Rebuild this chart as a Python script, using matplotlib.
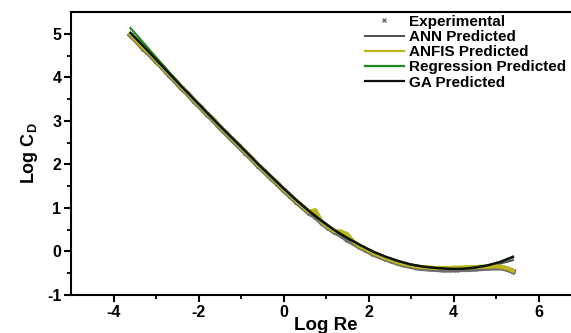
"""
Drag coefficient vs Reynolds number: experimental data and model predictions
"""
import matplotlib
matplotlib.use("Agg")
import matplotlib.pyplot as plt
from matplotlib.lines import Line2D

# experimental points (Log Re, Log Cd)
exp_x = [-3.6, -3.45, -3.3, -3.15, -3.0, -2.85, -2.7, -2.55, -2.4, -2.25,
         -2.1, -1.95, -1.8, -1.65, -1.5, -1.35, -1.2, -1.05, -0.9, -0.75,
         -0.6, -0.45, -0.3, -0.15, 0.0, 0.15, 0.3, 0.45, 0.6, 0.75,
         0.9, 1.05, 1.2, 1.35, 1.5, 1.65, 1.8, 1.95, 2.1, 2.25,
         2.4, 2.55, 2.7, 2.85, 3.0, 3.15, 3.3, 3.45, 3.6, 3.75,
         3.9, 4.05, 4.2, 4.35, 4.5, 4.65, 4.8, 4.95, 5.1, 5.25, 5.4]
exp_y = [4.97, 4.83, 4.66, 4.53, 4.37, 4.23, 4.06, 3.92, 3.75, 3.62,
         3.45, 3.31, 3.15, 3.02, 2.85, 2.71, 2.56, 2.42, 2.27, 2.13,
         1.97, 1.84, 1.69, 1.56, 1.41, 1.28, 1.14, 1.02, 0.89, 0.80,
         0.66, 0.55, 0.45, 0.38, 0.27, 0.19, 0.10, 0.03, -0.05, -0.11,
         -0.17, -0.22, -0.27, -0.31, -0.34, -0.37, -0.39, -0.40, -0.41, -0.42,
         -0.42, -0.42, -0.41, -0.41, -0.40, -0.39, -0.38, -0.37, -0.37, -0.40, -0.46]

# ANFIS output follows the experimental points closely
anfis_y = [4.99, 4.84, 4.68, 4.55, 4.39, 4.24, 4.08, 3.94, 3.77, 3.63,
           3.47, 3.33, 3.17, 3.04, 2.87, 2.73, 2.58, 2.44, 2.29, 2.15,
           1.99, 1.86, 1.71, 1.58, 1.43, 1.30, 1.16, 1.04, 0.91, 0.95,
           0.68, 0.57, 0.47, 0.46, 0.40, 0.22, 0.12, 0.05, -0.03, -0.09,
           -0.15, -0.20, -0.25, -0.29, -0.32, -0.35, -0.36, -0.37, -0.38, -0.38,
           -0.38, -0.37, -0.37, -0.36, -0.36, -0.35, -0.35, -0.34, -0.35, -0.38, -0.44]

# smooth model curves
fit_x = [-3.6, -3.3, -3.0, -2.7, -2.4, -2.1, -1.8, -1.5, -1.2, -0.9, -0.6,
         -0.3, 0.0, 0.3, 0.6, 0.9, 1.2, 1.5, 1.8, 2.1, 2.4, 2.7, 3.0,
         3.3, 3.6, 3.9, 4.2, 4.5, 4.8, 5.1, 5.4]
ann_y = [5.00, 4.70, 4.40, 4.09, 3.78, 3.48, 3.18, 2.88, 2.59, 2.30, 2.00,
         1.72, 1.44, 1.17, 0.92, 0.69, 0.48, 0.30, 0.14, -0.01, -0.13, -0.23, -0.31,
         -0.36, -0.39, -0.40, -0.40, -0.38, -0.34, -0.28, -0.20]
reg_y = [5.13, 4.80, 4.46, 4.13, 3.80, 3.49, 3.18, 2.88, 2.59, 2.30, 2.01,
         1.73, 1.45, 1.18, 0.93, 0.70, 0.49, 0.31, 0.15, 0.00, -0.12, -0.22, -0.30,
         -0.35, -0.38, -0.40, -0.40, -0.37, -0.32, -0.24, -0.14]
ga_y = [5.02, 4.72, 4.41, 4.10, 3.79, 3.49, 3.19, 2.89, 2.60, 2.31, 2.01,
        1.73, 1.45, 1.18, 0.93, 0.70, 0.49, 0.31, 0.15, 0.00, -0.12, -0.22, -0.30,
        -0.35, -0.38, -0.40, -0.40, -0.37, -0.32, -0.24, -0.12]

x_ticks = [-4, -2, 0, 2, 4, 6]
y_ticks = [-1, 0, 1, 2, 3, 4, 5]

plt.rcParams['font.family'] = ['Liberation Sans', 'DejaVu Sans']
plt.rcParams['font.weight'] = 'bold'
plt.rcParams['axes.unicode_minus'] = False
plt.rcParams['mathtext.fontset'] = 'custom'
plt.rcParams['mathtext.rm'] = 'Liberation Sans:bold'
plt.rcParams['mathtext.bf'] = 'Liberation Sans:bold'
plt.rcParams['mathtext.default'] = 'bf'

fig = plt.figure(figsize=(5.71, 3.33), dpi=100)
ax = fig.add_axes([71 / 571, 38 / 333, 510 / 571, 283 / 333])

gray = '#6e6e6e'
ax.plot(exp_x, exp_y, color=gray, lw=4, zorder=1)
ax.plot(exp_x, exp_y, 'x', color=gray, ms=3.5, mew=1, zorder=1)
ax.plot(fit_x, ann_y, color='#4d4d4d', lw=1.4, zorder=2)
ax.plot(exp_x, anfis_y, color='#bdb61a', lw=3, zorder=3)
ax.plot(fit_x, reg_y, color='#1f8c1f', lw=1.6, zorder=4)
ax.plot(fit_x, ga_y, color='#111111', lw=1.7, zorder=5)

ax.set_xlim(-5, 7)
ax.set_ylim(-1, 5.5)
ax.set_xticks(x_ticks)
ax.set_yticks(y_ticks)
ax.set_xticks([-3, -1, 1, 3, 5], minor=True)
ax.set_yticks([-0.5, 0.5, 1.5, 2.5, 3.5, 4.5], minor=True)
ax.tick_params(which='major', direction='out', length=5, width=1.5,
               labelsize=11.5, pad=2)
ax.tick_params(which='minor', direction='out', length=3, width=1.3)
for lab in ax.get_xticklabels() + ax.get_yticklabels():
    lab.set_fontweight('bold')
for s in ax.spines.values():
    s.set_linewidth(1.5)

ax.set_xlabel('Log Re', fontsize=13.5, fontweight='bold', labelpad=-2)
ax.set_ylabel(r'Log C$_\mathbf{D}$', fontsize=13, fontweight='bold', labelpad=5)

handles = [
    Line2D([], [], ls='none', marker='x', color=gray, ms=3, mew=1),
    Line2D([], [], color='#4d4d4d', lw=1.4),
    Line2D([], [], color='#bdb61a', lw=1.6),
    Line2D([], [], color='#1f8c1f', lw=1.6),
    Line2D([], [], color='#111111', lw=1.6),
]
labels = ['Experimental', 'ANN Predicted', 'ANFIS Predicted',
          'Regression Predicted', 'GA Predicted']
fig.legend(handles, labels, loc='upper left',
           bbox_to_anchor=(357 / 571, 1 - 7 / 333), frameon=False,
           borderpad=0, labelspacing=0.08, handlelength=2.55,
           handletextpad=0.33, prop={'weight': 'bold', 'size': 11})

fig.savefig('out.png', dpi=100)
